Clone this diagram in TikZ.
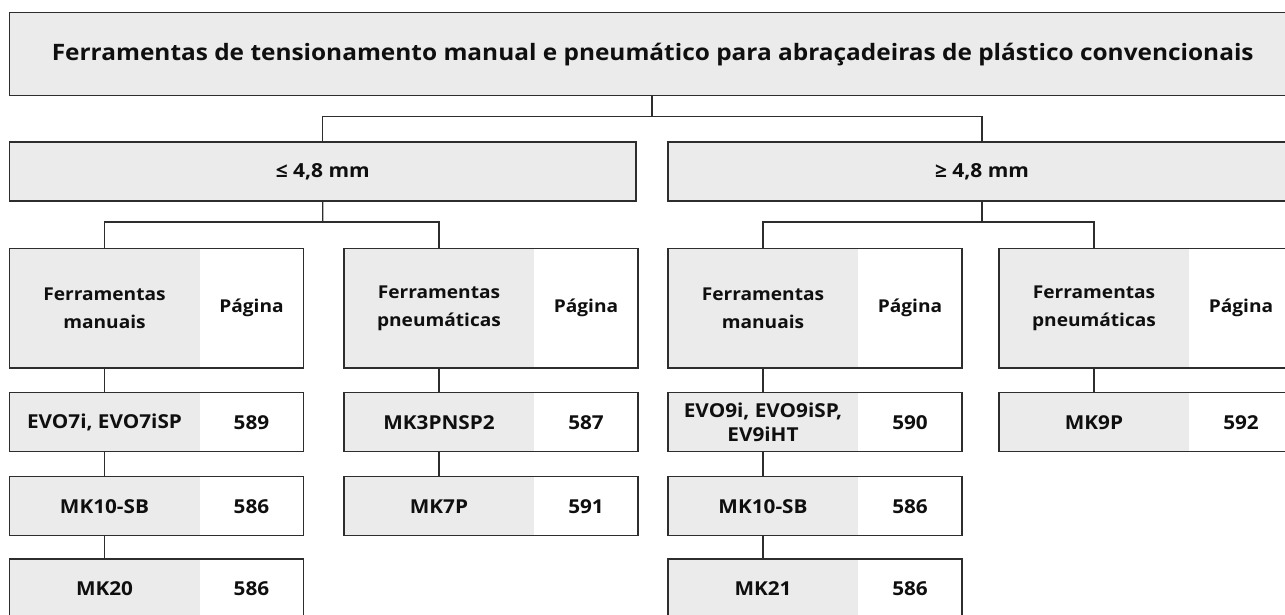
\documentclass[tikz,border=0pt]{standalone}
\usepackage{fontspec}
\setmainfont{Open Sans}[FakeStretch=1.08]
\usetikzlibrary{positioning}
\definecolor{boxgray}{RGB}{235,235,235}
\definecolor{linec}{RGB}{45,45,45}
\definecolor{txt}{RGB}{15,15,15}
\tikzset{
  every node/.style={inner sep=0pt, outer sep=0pt, text=txt, font=\bfseries},
  graycell/.style={fill=boxgray, anchor=north west, align=center},
  whitecell/.style={fill=white, anchor=north west, align=center},
  frame/.style={draw=linec, line width=1.4pt},
  conn/.style={draw=linec, line width=1.4pt},
  hdrfont/.style={font=\fontsize{17.7}{28}\selectfont\bfseries},
  itemfont/.style={font=\fontsize{19.2}{24}\selectfont\bfseries},
}
\begin{document}
\begin{tikzpicture}[x=1pt,y=-1pt]
\useasboundingbox (0,0) rectangle (1285,615);
\clip (0,0) rectangle (1285,615);
% title
\node[graycell, frame, minimum width=1286.5pt, minimum height=83pt, font=\fontsize{22.6}{26}\selectfont\bfseries] (title) at (9.5,12.7) {Ferramentas de tensionamento manual e pneumático para abraçadeiras de plástico convencionais};
% level 2
\node[graycell, frame, minimum width=626.5pt, minimum height=59pt, font=\fontsize{19.4}{24}\selectfont\bfseries] (le) at (9.5,142) {≤ 4,8 mm};
\node[graycell, frame, minimum width=628pt, minimum height=59pt, font=\fontsize{19.4}{24}\selectfont\bfseries] (ge) at (668,142) {≥ 4,8 mm};
% helper for two-part boxes
\newcommand{\twobox}[7]{% name, x, y, height, left text, right text, font style
  \node[graycell, minimum width=190pt, minimum height=#4pt, #7] (#1g) at (#2,#3) {#5};
  \node[whitecell, minimum width=104pt, minimum height=#4pt, #7] (#1p) at (#2+190,#3) {#6};
  \draw[frame] (#1g.north west) rectangle (#1p.south east);
}
% headers
\twobox{hA}{9.5}{248.5}{119.5}{Ferramentas\\manuais}{Página}{hdrfont}
\twobox{hB}{344}{248.5}{119.5}{Ferramentas\\pneumáticas}{Página}{hdrfont}
\twobox{hC}{668}{248.5}{119.5}{Ferramentas\\manuais}{Página}{hdrfont}
\twobox{hD}{999}{248.5}{119.5}{Ferramentas\\pneumáticas}{Página}{hdrfont}
% rows
\twobox{aA}{9.5}{392.7}{59}{EVO7i, EVO7iSP}{589}{itemfont}
\twobox{bA}{9.5}{476.7}{59}{MK10-SB}{586}{itemfont}
\twobox{cA}{9.5}{559}{59}{MK20}{586}{itemfont}
\twobox{aB}{344}{392.7}{59}{MK3PNSP2}{587}{itemfont}
\twobox{bB}{344}{476.7}{59}{MK7P}{591}{itemfont}
\twobox{aC}{668}{392.7}{59}{EVO9i, EVO9iSP,\\EV9iHT}{590}{itemfont}
\twobox{bC}{668}{476.7}{59}{MK10-SB}{586}{itemfont}
\twobox{cC}{668}{559}{59}{MK21}{586}{itemfont}
\twobox{aD}{999}{392.7}{59}{MK9P}{592}{itemfont}
% connectors level 1
\coordinate (j1) at (652,116.5);
\draw[conn] (title.south -| j1) -- (j1);
\draw[conn] (le.north) |- (j1) -| (ge.north);
% level 2 to headers
\coordinate (j2) at (322.7,222);
\coordinate (j3) at (982,222);
\draw[conn] (le.south) -- (j2);
\draw[conn] (hAg.north) |- (j2) -| (hBg.north);
\draw[conn] (ge.south) -- (j3);
\draw[conn] (hCg.north) |- (j3) -| (hDg.north);
% vertical chains
\draw[conn] (hAg.south) -- (aAg.north);
\draw[conn] (aAg.south) -- (bAg.north);
\draw[conn] (bAg.south) -- (cAg.north);
\draw[conn] (hBg.south) -- (aBg.north);
\draw[conn] (aBg.south) -- (bBg.north);
\draw[conn] (hCg.south) -- (aCg.north);
\draw[conn] (aCg.south) -- (bCg.north);
\draw[conn] (bCg.south) -- (cCg.north);
\draw[conn] (hDg.south) -- (aDg.north);
\end{tikzpicture}
\end{document}
